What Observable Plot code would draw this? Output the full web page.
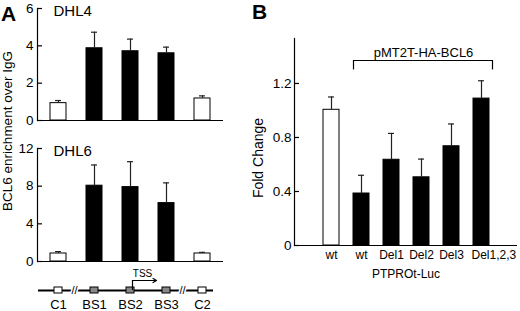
<!DOCTYPE html>
<html><head><meta charset="utf-8">
<script src="https://cdn.jsdelivr.net/npm/d3@7"></script>
<script src="https://cdn.jsdelivr.net/npm/@observablehq/plot@0.6"></script>
<style>
html,body{margin:0;padding:0;background:#fff;}
#fig{position:relative;width:520px;height:311px;overflow:hidden;font-family:"Liberation Sans",Arial,Helvetica,sans-serif;color:#000;}
#fig svg{position:absolute;}
.panel{position:absolute;font-weight:bold;font-size:21px;line-height:21px;}
.ytitle{position:absolute;white-space:nowrap;transform:translate(-50%,-50%) rotate(-90deg);line-height:1;}
</style></head><body><div id="fig"></div>
<script>
// ---------- Data: panel A (ChIP) ----------
const aCategories = ["C1", "BS1", "BS2", "BS3", "C2"];
const aIsBindingSite = [false, true, true, true, false];
const dhl4Values = [0.93, 3.87, 3.71, 3.60, 1.18];
const dhl4Upper  = [1.07, 4.73, 4.36, 3.93, 1.32];
const dhl6Values = [0.85, 8.05, 7.90, 6.20, 0.85];
const dhl6Upper  = [1.05, 10.25, 10.60, 8.35, 0.97];
const dhl4Ticks = [0, 2, 4, 6];
const dhl6Ticks = [0, 4, 8, 12];
const aYTitle = "BCL6 enrichment over IgG";
const tssSite = "BS2";

// ---------- Data: panel B (luciferase) ----------
const bLabels = ["wt", "wt", "Del1", "Del2", "Del3", "Del1,2,3"];
const bWithBCL6 = [false, true, true, true, true, true];
const bValues = [1.005, 0.385, 0.635, 0.505, 0.735, 1.088];
const bUpper  = [1.10, 0.52, 0.83, 0.64, 0.90, 1.22];
const bTicks = [0, 0.4, 0.8, 1.2];
const bAxisMax = 1.533;
const bBracketLabel = "pMT2T-HA-BCL6";
const bXTitle = "PTPROt-Luc";
const bYTitle = "Fold Change";

const FONT = '"Liberation Sans", Arial, Helvetica, sans-serif';
const fig = document.getElementById("fig");
const fmt = d3.format("");

function place(svg, left, top) {
  svg.style.left = left + "px";
  svg.style.top = top + "px";
  fig.appendChild(svg);
}

const aX = {domain: aCategories, paddingInner: 0.56, paddingOuter: 0.335, axis: null};

function barPanel(name, values, upper, ticks, height, mt, mb) {
  const data = aCategories.map((c, i) => ({cat: c, v: values[i], u: upper[i], site: aIsBindingSite[i]}));
  const W = 240, ml = 37, mr = 17, fw = W - ml - mr;
  return Plot.plot({
    width: W, height, marginLeft: ml, marginRight: mr, marginTop: mt, marginBottom: mb,
    style: {background: "transparent", fontFamily: FONT, fontSize: "13px", overflow: "visible"},
    x: aX,
    y: {domain: [0, ticks[ticks.length - 1]]},
    marks: [
      Plot.barY(data, {x: "cat", y: "v", fill: d => d.site ? "#000" : "#fff", stroke: "#000", strokeWidth: 1}),
      Plot.ruleX(data, {x: "cat", y1: "v", y2: "u", stroke: "#222", strokeWidth: 1.2}),
      Plot.tickY(data, {x: "cat", y: "u", insetLeft: 5, insetRight: 5, stroke: "#222", strokeWidth: 1.2}),
      Plot.ruleY([0], {stroke: "#000", strokeWidth: 1.2}),
      Plot.frame({anchor: "left", stroke: "#000", strokeWidth: 1.2}),
      Plot.tickY(ticks, {y: d => d, insetRight: fw - 5, stroke: "#000", strokeWidth: 1.2}),
      Plot.axisY({ticks, tickSize: 0, tickPadding: 4, fontSize: 13.5, label: null, tickFormat: fmt}),
      Plot.text([{label: name}], {text: "label", frameAnchor: "top-left", dx: 16, dy: 3, textAnchor: "start", lineAnchor: "middle", fontSize: 15})
    ]
  });
}

place(barPanel("DHL4", dhl4Values, dhl4Upper, dhl4Ticks, 130, 8, 10), 0, 0);
place(barPanel("DHL6", dhl6Values, dhl6Upper, dhl6Ticks, 130, 13, 4), 0, 135);

// gene diagram
const geneData = aCategories.map((c, i) => ({cat: c, site: aIsBindingSite[i]}));
const breaks = aCategories.filter((c, i) => i < aCategories.length - 1 && aIsBindingSite[i] !== aIsBindingSite[i + 1]);
const gene = Plot.plot({
  width: 240, height: 46, marginLeft: 37, marginRight: 17, marginTop: 15, marginBottom: 21,
  style: {background: "transparent", fontFamily: FONT, fontSize: "13px", overflow: "visible"},
  x: {...aX, axis: null},
  y: {domain: [0, 1], axis: null},
  marks: [
    Plot.ruleY([0], {stroke: "#000", strokeWidth: 2, insetLeft: 1, insetRight: 10}),
    Plot.text(breaks, {x: d => d, y: () => 0, text: () => "//", dx: 16, fill: "#000", stroke: "#fff", strokeWidth: 3, fontSize: 11}),
    Plot.barY(geneData, {x: "cat", y1: () => -0.3, y2: () => 0.3, insetLeft: 4, insetRight: 4, fill: d => d.site ? "#888" : "#fff", stroke: "#000", strokeWidth: 1}),
    Plot.ruleX([tssSite], {x: d => d, y1: () => 0, y2: () => 1, dx: 2, stroke: "#000", strokeWidth: 1.2}),
    Plot.arrow([tssSite], {x1: d => d, x2: d => aCategories[aCategories.indexOf(d) + 1], y1: () => 1, y2: () => 1, dx: 2, insetEnd: 12, headLength: 5, stroke: "#000", strokeWidth: 1.2}),
    Plot.text([{x: tssSite, label: "TSS"}], {x: "x", y: () => 1.7, text: "label", dx: 12, fontSize: 10}),
    Plot.axisX({tickSize: 0, tickPadding: 9, fontSize: 13, label: null})
  ]
});
place(gene, 0, 265);

// panel B
const bData = bLabels.map((l, i) => ({i, label: l, v: bValues[i], u: bUpper[i], bcl6: bWithBCL6[i]}));
const first = bWithBCL6.indexOf(true);
const last = bWithBCL6.lastIndexOf(true);
const mid = Math.round((first + last) / 2);
const bracketLevel = 1.37, bracketEnd = 1.30, bracketText = 1.43;
const shortIdx = bData.filter(d => d.label.length <= 5).map(d => d.i);
const longData = bData.filter(d => d.label.length > 5);
const pb = Plot.plot({
  width: 270, height: 311, marginLeft: 44, marginRight: 3, marginTop: 38, marginBottom: 66,
  style: {background: "transparent", fontFamily: FONT, fontSize: "13px", overflow: "visible"},
  x: {domain: d3.range(bLabels.length), paddingInner: 0.48, paddingOuter: 0.87},
  y: {domain: [0, bAxisMax]},
  marks: [
    Plot.barY(bData, {x: "i", y: "v", fill: d => d.bcl6 ? "#000" : "#fff", stroke: "#000", strokeWidth: 1}),
    Plot.ruleX(bData, {x: "i", y1: "v", y2: "u", stroke: "#222", strokeWidth: 1.2}),
    Plot.tickY(bData, {x: "i", y: "u", insetLeft: 5, insetRight: 5, stroke: "#222", strokeWidth: 1.2}),
    Plot.ruleY([0], {stroke: "#000", strokeWidth: 1.2}),
    Plot.frame({anchor: "left", stroke: "#000", strokeWidth: 1.2}),
    Plot.tickY(bTicks, {y: d => d, insetRight: 223 - 5, stroke: "#000", strokeWidth: 1.2}),
    Plot.axisY({ticks: bTicks, tickSize: 0, tickPadding: 3, fontSize: 13.5, label: null, tickFormat: fmt}),
    Plot.axisX({ticks: shortIdx, tickSize: 0, tickPadding: 5, fontSize: 12, tickFormat: i => bLabels[i], label: bXTitle, labelAnchor: "center", labelOffset: 32}),
    Plot.text(longData, {x: "i", text: "label", frameAnchor: "bottom", lineAnchor: "top", textAnchor: "start", dx: -10, dy: 5, fontSize: 12}),
    Plot.ruleY([bracketLevel], {y: d => d, x1: () => first, x2: () => last, insetRight: -3, stroke: "#000", strokeWidth: 1.2}),
    Plot.ruleX([first], {x: d => d, y1: () => bracketLevel, y2: () => bracketEnd, dx: -8, stroke: "#000", strokeWidth: 1.2}),
    Plot.ruleX([last], {x: d => d, y1: () => bracketLevel, y2: () => bracketEnd, dx: 11, stroke: "#000", strokeWidth: 1.2}),
    Plot.text([{x: mid, y: bracketText, label: bBracketLabel}], {x: "x", y: "y", text: "label", dx: 2, fontSize: 13})
  ]
});
place(pb, 250, 0);

// HTML text: panel letters and y titles
function addDiv(cls, text, left, top, size) {
  const d = document.createElement("div");
  d.className = cls;
  d.textContent = text;
  d.style.left = left + "px";
  d.style.top = top + "px";
  if (size) d.style.fontSize = size + "px";
  fig.appendChild(d);
}
addDiv("panel", "A", 1, 3);
addDiv("panel", "B", 252, 1);
addDiv("ytitle", aYTitle, 8, 131, 13.5);
addDiv("ytitle", bYTitle, 258, 158, 14);
</script></body></html>
